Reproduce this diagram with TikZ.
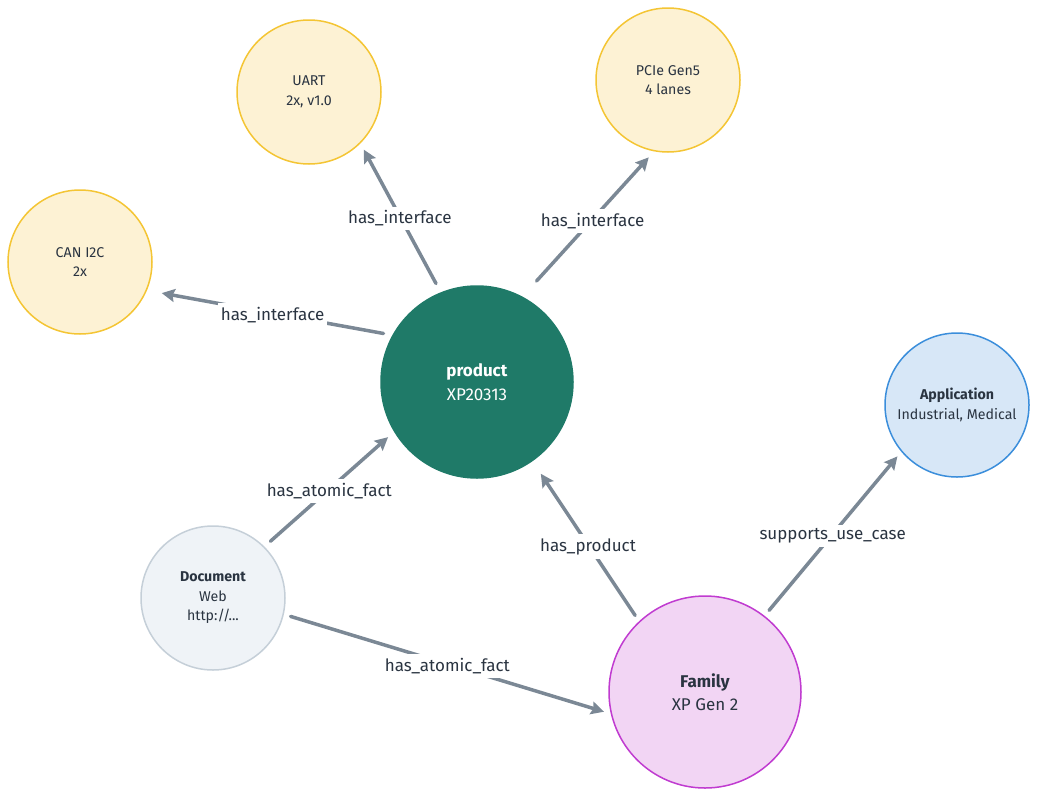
\documentclass[tikz,border=0pt]{standalone}
\usepackage{fontspec}
\setmainfont{Fira Sans}
\usetikzlibrary{arrows.meta}
\definecolor{txt}{HTML}{2A3441}
\definecolor{edgec}{HTML}{7B8895}
\definecolor{yfill}{HTML}{FDF2D4}
\definecolor{ydraw}{HTML}{F4C534}
\definecolor{pfill}{HTML}{1F7A68}
\definecolor{dfill}{HTML}{EFF3F7}
\definecolor{ddraw}{HTML}{C5CFD8}
\definecolor{ffill}{HTML}{F2D5F4}
\definecolor{fdraw}{HTML}{C03BD0}
\definecolor{afill}{HTML}{D7E7F7}
\definecolor{adraw}{HTML}{3B8EDB}
\tikzset{
  smallnode/.style={circle, minimum size=144pt, inner sep=0pt, line width=1.5pt, align=center, text=txt, font=\fontsize{14.2}{19.5}\selectfont},
  bignode/.style={circle, minimum size=192pt, inner sep=0pt, line width=1.5pt, align=center, text=txt, font=\fontsize{17}{23.5}\selectfont},
  iface/.style={smallnode, fill=yfill, draw=ydraw},
  rel/.style={draw=edgec, line width=3.5pt, line cap=round, -{Stealth[length=13pt,width=13pt,inset=2pt]}},
  lbl/.style={fill=white, text=txt, inner xsep=3pt, inner ysep=4pt, yshift=-2pt, font=\fontsize{17}{18}\selectfont}
}
\begin{document}
\begin{tikzpicture}[x=1pt,y=-1pt]
\useasboundingbox (0,0) rectangle (1038,798);
\node[iface] (uart) at (309,92) {UART\\2x, v1.0};
\node[iface] (pcie) at (668,80) {PCIe Gen5\\4 lanes};
\node[iface] (can) at (80,262) {CAN I2C\\2x};
\node[bignode, fill=pfill, draw=pfill, text=white] (prod) at (477,382) {\textbf{product}\\XP20313};
\node[smallnode, fill=afill, draw=adraw] (app) at (957,405) {\textbf{Application}\\Industrial, Medical};
\node[smallnode, fill=dfill, draw=ddraw] (doc) at (213,598) {\textbf{Document}\\Web\\http://...};
\node[bignode, fill=ffill, draw=fdraw] (fam) at (705,692) {\textbf{Family}\\XP Gen 2};

\draw[rel, shorten <=10pt, shorten >=7pt] (prod.112) -- node[lbl, pos=0.509] (l1) {has\_interface} (uart.-45);
\draw[rel, shorten <=21pt, shorten >=8pt] (prod.62.6) -- node[lbl, pos=0.533] (l2) {has\_interface} (pcie.-101.6);
\draw[rel, shorten <=9pt, shorten >=15pt] (prod.151.5) -- node[lbl, pos=0.488] (l3) {has\_interface} (can.-23.6);
\draw[rel, shorten <=8pt, shorten >=8pt] (doc.45) -- node[lbl, pos=0.5] (l4) {has\_atomic\_fact} (prod.-149.5);
\draw[rel, shorten <=7pt, shorten >=15pt] (fam.133.8) -- node[lbl, pos=0.479] (l5) {has\_product} (prod.-55.3);
\draw[rel, shorten <=7pt, shorten >=6pt] (fam.52.8) -- node[lbl, pos=0.498] (l6) {supports\_use\_case} (app.-140.2);
\draw[rel, shorten <=7pt, shorten >=7pt] (doc.-13.7) -- node[lbl, pos=0.5] (l7) {has\_atomic\_fact} (fam.-167.8);
\end{tikzpicture}
\end{document}
